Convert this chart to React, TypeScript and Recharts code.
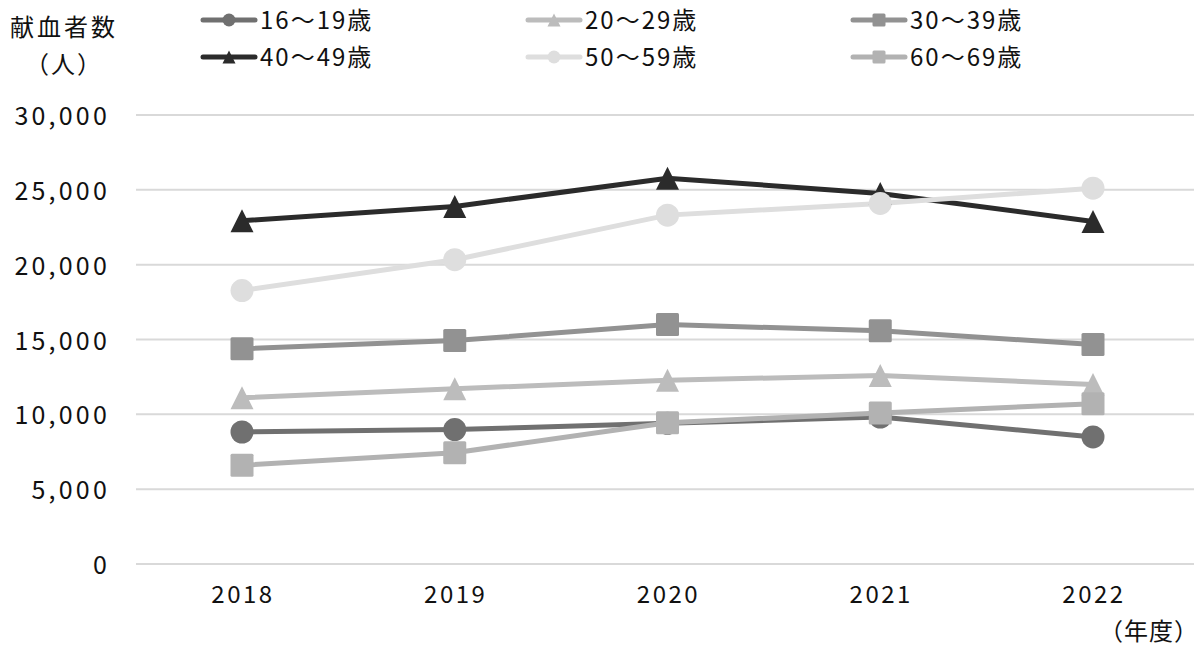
import React from 'react';
import { LineChart, Line, XAxis, YAxis, CartesianGrid } from 'recharts';

const years = ['2018', '2019', '2020', '2021', '2022'];
const s16_19 = [8820, 8980, 9400, 9820, 8490];
const s20_29 = [11110, 11710, 12270, 12600, 12000];
const s30_39 = [14380, 14930, 16000, 15580, 14670];
const s40_49 = [22930, 23890, 25780, 24760, 22890];
const s50_59 = [18270, 20330, 23310, 24090, 25110];
const s60_69 = [6600, 7440, 9440, 10090, 10710];
const seriesNames = ['16～19歳', '20～29歳', '30～39歳', '40～49歳', '50～59歳', '60～69歳'];
const seriesKeys = ['a16', 'a20', 'a30', 'a40', 'a50', 'a60'];
const seriesValues = [s16_19, s20_29, s30_39, s40_49, s50_59, s60_69];
const seriesColors = ['#707070', '#bcbcbc', '#929292', '#2b2b2b', '#dedede', '#b2b2b2'];
const seriesShapes = ['circle', 'triangle', 'square', 'triangle', 'circle', 'square'];
const yTicks = [0, 5000, 10000, 15000, 20000, 25000, 30000];
const yAxisTitle = ['献血者数', '（人）'];
const xAxisTitle = '（年度）';

const data = years.map((y, i) => {
  const row: Record<string, string | number> = { year: y };
  seriesKeys.forEach((k, j) => {
    row[k] = seriesValues[j][i];
  });
  return row;
});

const FONT = "'Noto Sans CJK JP', 'Noto Sans', sans-serif";
const TEXT = '#111111';

function Marker({ shape, cx, cy, size, color }: { shape: string; cx: number; cy: number; size: number; color: string }) {
  const h = size / 2;
  if (shape === 'circle') return <circle cx={cx} cy={cy} r={h} fill={color} />;
  if (shape === 'square')
    return <rect x={cx - h} y={cy - h} width={size} height={size} rx={1.5} fill={color} />;
  return <polygon points={`${cx},${cy - h} ${cx + h},${cy + h} ${cx - h},${cy + h}`} fill={color} />;
}

const makeDot = (shape: string, color: string) => (props: any) => {
  const { cx, cy, index } = props;
  if (cx == null || cy == null) return <g key={index} />;
  return (
    <g key={index}>
      <Marker shape={shape} cx={cx} cy={cy} size={23} color={color} />
    </g>
  );
};

const XTick = (props: any) => {
  const { x, y, payload } = props;
  return (
    <text x={x + 1} y={y + 39} textAnchor="middle" fill={TEXT} fontSize={24} fontFamily={FONT} letterSpacing={2.5}>
      {payload.value}
    </text>
  );
};

const YTick = (props: any) => {
  const { x, y, payload } = props;
  return (
    <text x={x - 26} y={y + 10} textAnchor="end" fill={TEXT} fontSize={25} fontFamily={FONT} letterSpacing={3.2}>
      {Number(payload.value).toLocaleString('en-US')}
    </text>
  );
};

const GridLine = (props: any) => {
  const { x1, x2, y1, y2 } = props;
  return <line x1={x1} x2={x2 - 6} y1={y1} y2={y2} stroke="#d9d9d9" strokeWidth={2} />;
};

const legendCols = [200, 525, 850];
const legendRows = [20, 57];

export default function App() {
  return (
    <div style={{ position: 'absolute', left: 0, top: 0, width: 1200, height: 650, background: '#fff' }}>
      <LineChart
        width={1200}
        height={650}
        data={data}
        margin={{ top: 115, right: 0, bottom: 56, left: 0 }}
      >
        <CartesianGrid vertical={false} horizontal={(p: any) => <GridLine key={p.key ?? `${p.y1}`} {...p} />} />
        <XAxis
          dataKey="year"
          height={30}
          axisLine={false}
          tickLine={false}
          tickSize={0}
          tickMargin={0}
          padding={{ left: 106, right: 107 }}
          tick={<XTick />}
          interval={0}
        />
        <YAxis
          width={136}
          domain={[0, 30000]}
          ticks={yTicks}
          axisLine={false}
          tickLine={false}
          tickSize={0}
          tickMargin={0}
          tick={<YTick />}
          interval={0}
        />
        {seriesKeys.map((k, j) => (
          <Line
            key={k}
            dataKey={k}
            name={seriesNames[j]}
            stroke={seriesColors[j]}
            strokeWidth={5}
            type="linear"
            isAnimationActive={false}
            dot={makeDot(seriesShapes[j], seriesColors[j])}
            activeDot={false}
          />
        ))}
      </LineChart>
      <svg
        width={1200}
        height={650}
        style={{ position: 'absolute', left: 0, top: 0, pointerEvents: 'none' }}
      >
        <text x={64} y={36} textAnchor="middle" fill={TEXT} fontSize={24} fontFamily={FONT} letterSpacing={3}>
          {yAxisTitle[0]}
        </text>
        <text x={64} y={73} textAnchor="middle" fill={TEXT} fontSize={24} fontFamily={FONT} letterSpacing={2}>
          {yAxisTitle[1]}
        </text>
        <text x={1199} y={640} textAnchor="end" fill={TEXT} fontSize={24} fontFamily={FONT} letterSpacing={1}>
          {xAxisTitle}
        </text>
        {seriesNames.map((name, j) => {
          const x0 = legendCols[j % 3];
          const y0 = legendRows[Math.floor(j / 3)];
          return (
            <g key={name}>
              <line x1={x0 + 3} y1={y0} x2={x0 + 55} y2={y0} stroke={seriesColors[j]} strokeWidth={5} strokeLinecap="round" />
              <Marker shape={seriesShapes[j]} cx={x0 + 29} cy={y0} size={13} color={seriesColors[j]} />
              <text x={x0 + 60} y={y0 + 9} fill={TEXT} fontSize={24} fontFamily={FONT} letterSpacing={2}>
                {name}
              </text>
            </g>
          );
        })}
      </svg>
    </div>
  );
}
